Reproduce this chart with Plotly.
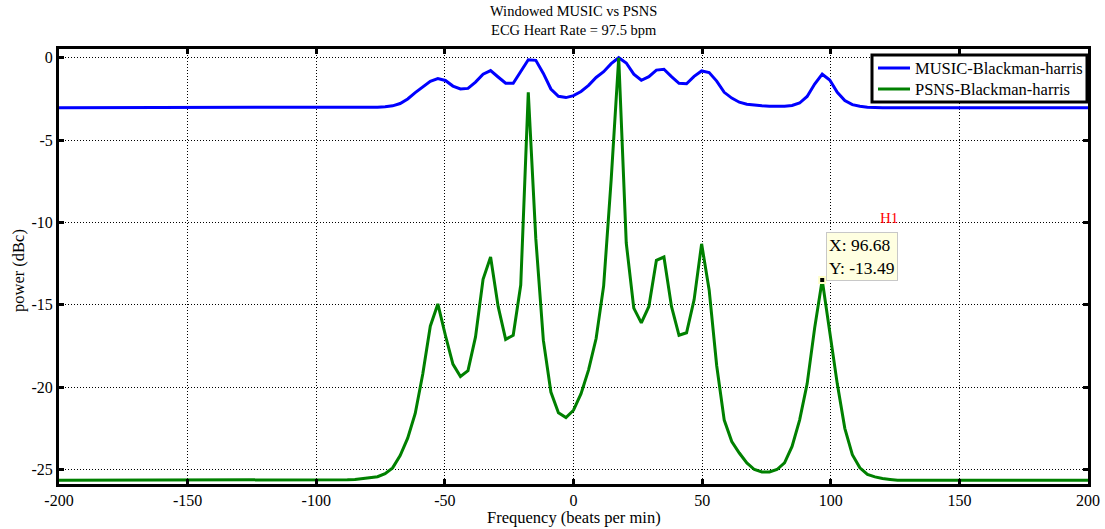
import plotly.graph_objects as go

# ---------------- data ----------------
freq_step = 6000 / 2048          # bin width in beats per minute (fs=100 Hz, N=2048)
bins = list(range(-69, 70))
freqs = [round(k * freq_step, 4) for k in bins]

music_bh = (
    [-3.03] * 43 +
    [-3.0, -2.97, -2.92, -2.78, -2.5, -2.12, -1.75, -1.43, -1.26, -1.38,
     -1.72, -1.9, -1.86, -1.48, -1.0, -0.78, -1.17, -1.55, -1.55, -0.8,
     -0.12, -0.16, -0.95, -1.9, -2.34, -2.42, -2.3, -2.05, -1.68, -1.2,
     -0.85, -0.36, 0.0, -0.32, -1.0, -1.37, -1.15, -0.75, -0.7, -1.15,
     -1.55, -1.58, -1.13, -0.8, -0.9, -1.42, -2.1, -2.45, -2.7, -2.82,
     -2.88, -2.92, -2.95, -2.96, -2.95, -2.9, -2.75, -2.35, -1.6, -1.0,
     -1.35, -2.1, -2.6, -2.85, -2.95, -3.0] +
    [-3.03] * 30
)

psns_bh = (
    [-25.65] * 38 +
    [-25.64, -25.62, -25.6, -25.56, -25.52, -25.44, -25.25, -24.9, -24.15, -23.1,
     -21.6, -19.2, -16.3, -14.95, -16.85, -18.6, -19.35, -19.0, -16.95, -13.45,
     -12.1, -15.1, -17.1, -16.85, -13.8, -2.1, -11.0, -17.15, -20.3, -21.55,
     -21.85, -21.4, -20.4, -18.95, -17.05, -13.85, -7.4, 0.0, -11.25, -15.2,
     -16.1, -15.1, -12.3, -12.1, -15.1, -16.85, -16.7, -14.7, -11.3, -14.1,
     -18.7, -22.0, -23.3, -24.0, -24.6, -25.0, -25.15, -25.15, -25.0, -24.6,
     -23.6, -22.0, -19.8, -16.4, -13.49, -16.5, -19.8, -22.5, -24.1, -24.9,
     -25.3, -25.45, -25.55, -25.6] +
    [-25.65] * 27
)

tip_x = [96.68]
tip_y = [-13.49]

x_ticks = [-200, -150, -100, -50, 0, 50, 100, 150, 200]
x_tick_text = ["-200", "-150", "-100", "-50", "0", "50", "100", "150", "200"]
y_ticks = [0, -5, -10, -15, -20, -25]
y_tick_text = ["0", "-5", "-10", "-15", "-20", "-25"]

title_text = "Windowed MUSIC vs PSNS<br>ECG Heart Rate = 97.5 bpm"
series_names = ["MUSIC-Blackman-harris", "PSNS-Blackman-harris"]
series_colors = ["#0000FF", "#008000"]

# ---------------- layout constants (pixels) ----------------
FONT = "Liberation Serif"
W, H = 1105, 529
ML, MR, MT, MB = 59, 17, 49, 45
PW, PH = W - ML - MR, H - MT - MB


def px_x(px):
    return (px - ML) / PW


def px_y(py):
    return (H - MB - py) / PH


fig = go.Figure()
for name, vals, col in zip(series_names, [music_bh, psns_bh], series_colors):
    fig.add_trace(go.Scatter(x=freqs, y=vals, mode="lines", name=name,
                             showlegend=False, line=dict(color=col, width=3)))
fig.add_trace(go.Scatter(x=tip_x, y=tip_y, mode="markers", showlegend=False,
                         marker=dict(symbol="square", size=6, color="black",
                                     line=dict(color="#FFFFC8", width=2))))

axis_common = dict(
    showline=True, linecolor="black", linewidth=3, mirror="allticks",
    ticks="inside", ticklen=5, tickwidth=3, tickcolor="black",
    showgrid=True, gridcolor="black", gridwidth=1, griddash="1px,2px",
    zeroline=False, automargin=False,
    tickfont=dict(family=FONT, size=16, color="black"),
)

fig.update_xaxes(range=[-200, 200], tickmode="array", tickvals=x_ticks,
                 ticktext=x_tick_text, **axis_common)
fig.update_yaxes(range=[-25.88, 0.53], tickmode="array", tickvals=y_ticks,
                 ticktext=y_tick_text, **axis_common)

fig.update_layout(
    width=W, height=H,
    margin=dict(l=ML, r=MR, t=MT, b=MB, autoexpand=False),
    paper_bgcolor="white", plot_bgcolor="white",
    font=dict(family=FONT, size=15, color="black"),
    showlegend=False,
)

# title
fig.add_annotation(text=title_text, xref="paper", yref="paper", x=0.5, y=1,
                   xanchor="center", yanchor="bottom", yshift=9, showarrow=False,
                   font=dict(family=FONT, size=14.5, color="black"))

# axis titles
fig.add_annotation(text="Frequency (beats per min)", xref="paper", yref="paper",
                   x=0.5, y=0, xanchor="center", yanchor="top", yshift=-22,
                   showarrow=False, font=dict(family=FONT, size=16.5, color="black"))
fig.add_annotation(text="power (dBc)", xref="paper", yref="paper",
                   x=0, y=px_y(271), xanchor="center", yanchor="middle", xshift=-41,
                   textangle=-90, showarrow=False,
                   font=dict(family=FONT, size=16.5, color="black"))

# legend (drawn by hand to match the boxed MATLAB legend)
fig.add_shape(type="rect", xref="paper", yref="paper",
              x0=px_x(872), x1=px_x(1087), y0=px_y(102), y1=px_y(55),
              fillcolor="white", line=dict(color="black", width=3), layer="above")
for i, (name, col) in enumerate(zip(series_names, series_colors)):
    yy = px_y(68 + 21 * i)
    fig.add_shape(type="line", xref="paper", yref="paper",
                  x0=px_x(878), x1=px_x(910), y0=yy, y1=yy,
                  line=dict(color=col, width=3), layer="above")
    fig.add_annotation(text=name, xref="paper", yref="paper", x=px_x(913), y=yy,
                       xanchor="left", yanchor="middle", showarrow=False,
                       font=dict(family=FONT, size=16.5, color="black"))

# data tip
fig.add_annotation(x=tip_x[0], y=tip_y[0], xref="x", yref="y",
                   text=f"X: {tip_x[0]:.2f}<br>Y: {tip_y[0]:.2f}",
                   showarrow=True, arrowcolor="rgba(0,0,0,0)", ax=4, ay=-48,
                   xanchor="left", yanchor="top", align="left",
                   bgcolor="#FFFFE1", bordercolor="#C8C8C8", borderwidth=1, borderpad=2,
                   font=dict(family=FONT, size=17.5, color="black"))
fig.add_annotation(x=tip_x[0], y=tip_y[0], xref="x", yref="y", text="H1",
                   showarrow=True, arrowcolor="rgba(0,0,0,0)", ax=67, ay=-62,
                   xanchor="center", yanchor="middle",
                   font=dict(family=FONT, size=15, color="#FF0000"))

fig.write_html("out.html")
